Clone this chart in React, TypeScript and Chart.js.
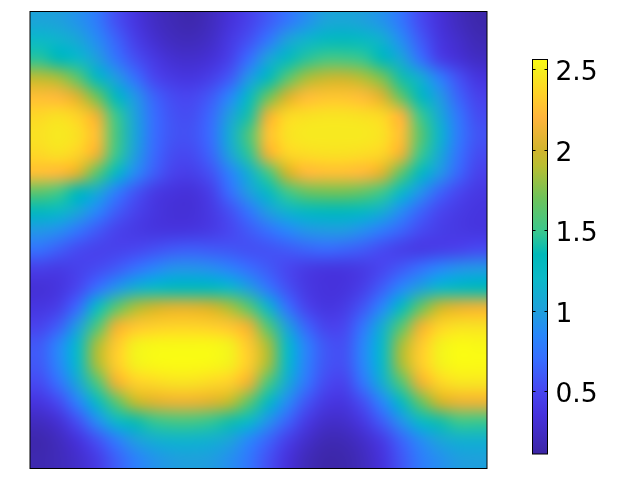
import React, { useEffect, useRef } from "react";
import { Chart, registerables } from "chart.js";

Chart.register(...registerables);

const FONT = "'DejaVu Sans'";

// Field values, one row per band from top to bottom.
const fieldRows: number[][] = [
  [1.03,1.0,.92,.78,.55,.38,.25,.18,.15,.22,.34,.46,.6,.74,.9,1.02,1.05,1.0,.92,.74,.52,.34,.22,.14],
  [1.2,1.15,1.05,.88,.65,.45,.3,.22,.2,.26,.4,.55,.75,1.0,1.15,1.27,1.3,1.25,1.12,.88,.6,.38,.27,.18],
  [1.45,1.35,1.2,1.0,.75,.55,.4,.3,.28,.33,.46,.7,1.02,1.28,1.45,1.53,1.53,1.48,1.33,1.05,.72,.45,.33,.24],
  [1.92,1.85,1.62,1.28,.98,.72,.5,.4,.38,.45,.6,.95,1.3,1.6,1.85,1.95,1.97,1.88,1.72,1.4,1.1,.8,.55,.37],
  [2.25,2.22,2.05,1.7,1.3,.95,.65,.52,.5,.6,.85,1.25,1.68,2.02,2.24,2.28,2.28,2.24,2.05,1.65,1.3,.97,.65,.47],
  [2.38,2.42,2.35,2.12,1.5,1.02,.7,.56,.54,.68,1.0,1.42,2.12,2.38,2.42,2.44,2.44,2.42,2.38,2.18,1.5,1.08,.75,.53],
  [2.43,2.47,2.42,2.25,1.55,1.05,.7,.57,.56,.7,1.1,1.57,2.27,2.43,2.47,2.47,2.47,2.47,2.43,2.25,1.62,1.17,.78,.57],
  [2.38,2.42,2.35,2.12,1.5,1.0,.68,.53,.52,.66,1.02,1.47,2.12,2.36,2.4,2.42,2.42,2.4,2.36,2.12,1.5,1.08,.73,.53],
  [2.25,2.22,2.05,1.62,1.25,.88,.62,.47,.45,.56,.82,1.12,1.52,1.98,2.22,2.25,2.25,2.22,2.05,1.62,1.27,.95,.66,.47],
  [1.62,1.52,1.33,1.08,.8,.58,.42,.36,.34,.45,.7,.98,1.25,1.5,1.66,1.7,1.7,1.64,1.5,1.2,.92,.65,.5,.4],
  [1.3,1.22,1.05,.85,.62,.48,.38,.33,.33,.4,.55,.75,.98,1.15,1.27,1.32,1.32,1.26,1.1,.88,.65,.5,.42,.37],
  [.95,.9,.75,.6,.48,.42,.38,.37,.38,.42,.5,.6,.72,.85,.94,.97,.97,.9,.78,.65,.52,.44,.4,.38],
  [.72,.62,.52,.47,.47,.5,.55,.6,.62,.6,.58,.55,.56,.6,.65,.68,.65,.6,.52,.45,.42,.45,.48,.52],
  [.45,.42,.46,.52,.6,.72,.84,.92,.93,.9,.82,.7,.6,.5,.42,.38,.38,.42,.5,.6,.72,.85,.92,.95],
  [.33,.37,.5,.7,.92,1.1,1.22,1.3,1.32,1.3,1.18,.98,.75,.55,.4,.35,.36,.45,.62,.85,1.0,1.18,1.28,1.33],
  [.38,.45,.68,1.2,1.6,1.85,1.98,2.05,2.05,2.0,1.85,1.6,1.15,.72,.48,.38,.42,.58,.85,1.25,1.65,1.95,2.08,2.12],
  [.48,.62,.98,1.55,2.1,2.28,2.33,2.35,2.35,2.33,2.28,2.1,1.58,1.0,.65,.48,.5,.75,1.1,1.6,2.1,2.35,2.42,2.42],
  [.6,.85,1.2,1.85,2.3,2.5,2.54,2.55,2.55,2.55,2.5,2.3,1.85,1.2,.82,.58,.55,.85,1.2,1.85,2.3,2.5,2.56,2.55],
  [.6,.85,1.2,1.85,2.32,2.5,2.55,2.56,2.56,2.55,2.5,2.32,1.85,1.2,.82,.58,.55,.85,1.2,1.85,2.32,2.5,2.56,2.56],
  [.52,.72,1.05,1.55,2.1,2.33,2.38,2.42,2.42,2.38,2.33,2.1,1.55,1.08,.75,.52,.48,.75,1.1,1.58,2.1,2.36,2.44,2.44],
  [.37,.52,.82,1.22,1.6,1.92,2.05,2.1,2.1,2.05,1.92,1.62,1.25,.88,.58,.4,.38,.55,.85,1.25,1.65,1.98,2.1,2.12],
  [.23,.32,.55,.88,1.18,1.38,1.48,1.53,1.53,1.48,1.4,1.2,.92,.65,.42,.28,.28,.4,.62,.92,1.22,1.4,1.5,1.5],
  [.15,.22,.35,.55,.78,.98,1.1,1.15,1.15,1.12,1.02,.85,.65,.45,.28,.18,.19,.27,.42,.65,.88,1.03,1.12,1.13],
  [.16,.2,.28,.42,.62,.8,.92,.98,1.0,.98,.9,.75,.55,.35,.2,.13,.14,.22,.36,.58,.78,.9,.98,1.0],
];

// Colour scale.
const colorValues = [0.11, 0.35, 0.5, 0.7, 0.85, 1.0, 1.2, 1.35, 1.5, 1.7, 1.9, 2.0, 2.2, 2.35, 2.5, 2.56];
const colorStops: number[][] = [
  [60, 38, 165], [70, 50, 220], [72, 70, 240], [55, 110, 255], [40, 135, 250], [30, 160, 220],
  [10, 185, 200], [0, 185, 185], [60, 200, 140], [110, 195, 90], [185, 190, 50], [210, 180, 45],
  [255, 180, 60], [255, 210, 40], [245, 240, 30], [250, 250, 20],
];
const colorbarTicks = [0.5, 1, 1.5, 2, 2.5];
const colorbarMin = 0.11;
const colorbarMax = 2.56;
const labelShift = 0.025;

function colorOf(v: number): string {
  let i = 0;
  while (i < colorValues.length - 2 && v > colorValues[i + 1]) i++;
  const t = Math.min(1, Math.max(0, (v - colorValues[i]) / (colorValues[i + 1] - colorValues[i])));
  const a = colorStops[i];
  const b = colorStops[i + 1];
  const c = a.map((x, k) => Math.round(x + (b[k] - x) * t));
  return `rgb(${c[0]},${c[1]},${c[2]})`;
}

const nRows = fieldRows.length;
const nCols = fieldRows[0].length;

const cells = fieldRows.flatMap((row, j) =>
  row.map((v, i) => ({ x: i + 0.5, y: j + 0.5, v }))
);

// Softens the cells the library has drawn, so that the field reads as continuous.
const smoothCells = {
  id: "smoothCells",
  afterDatasetsDraw(chart: any) {
    const { ctx, chartArea: a } = chart;
    const w = a.right - a.left;
    const h = a.bottom - a.top;
    const small = document.createElement("canvas");
    small.width = nCols;
    small.height = nRows;
    const s = small.getContext("2d")!;
    s.imageSmoothingEnabled = false;
    s.drawImage(chart.canvas, a.left, a.top, w, h, 0, 0, nCols, nRows);
    ctx.save();
    ctx.imageSmoothingEnabled = true;
    ctx.imageSmoothingQuality = "high";
    ctx.drawImage(small, 0, 0, nCols, nRows, a.left, a.top, w, h);
    ctx.strokeStyle = "#000";
    ctx.lineWidth = 1;
    ctx.strokeRect(a.left, a.top + 0.5, w, h - 1);
    ctx.restore();
  },
};

const barFrame = {
  id: "barFrame",
  afterDatasetsDraw(chart: any) {
    const { ctx, chartArea: a, scales } = chart;
    ctx.save();
    ctx.strokeStyle = "#000";
    ctx.lineWidth = 1;
    ctx.beginPath();
    for (const t of colorbarTicks) {
      const y = Math.round(scales.y.getPixelForValue(t)) + 0.5;
      ctx.moveTo(a.left, y);
      ctx.lineTo(a.left + 3, y);
      ctx.moveTo(a.right - 3, y);
      ctx.lineTo(a.right, y);
    }
    ctx.stroke();
    ctx.strokeRect(a.left, a.top, a.right - a.left, a.bottom - a.top);
    ctx.restore();
  },
};

export default function App() {
  const fieldRef = useRef<HTMLCanvasElement>(null);
  const barRef = useRef<HTMLCanvasElement>(null);

  useEffect(() => {
    const cellSide = 457 / nCols;
    const field = new Chart(fieldRef.current!, {
      type: "scatter",
      data: {
        datasets: [
          {
            label: "field",
            data: cells,
            pointStyle: "rect",
            pointRadius: (cellSide + 1) / Math.SQRT2,
            pointBorderWidth: 0,
            backgroundColor: cells.map((c) => colorOf(c.v)),
          },
        ],
      },
      options: {
        responsive: false,
        animation: false,
        layout: { autoPadding: false, padding: { left: 30, right: 153, top: 11, bottom: 11 } },
        plugins: { legend: { display: false }, tooltip: { enabled: false } },
        scales: {
          x: { type: "linear", min: 0, max: nCols, display: false },
          y: { type: "linear", min: 0, max: nRows, reverse: true, display: false },
        },
      },
      plugins: [smoothCells],
    } as any);

    const bar = new Chart(barRef.current!, {
      type: "bar",
      data: {
        labels: ["colorbar"],
        datasets: [
          {
            label: "colorbar",
            data: [[colorbarMin, colorbarMax]],
            barPercentage: 1,
            categoryPercentage: 1,
            backgroundColor: (ctx: any) => {
              const a = ctx.chart.chartArea;
              if (!a) return "#888";
              const g = ctx.chart.ctx.createLinearGradient(0, a.bottom, 0, a.top);
              colorValues.forEach((v) => {
                g.addColorStop((v - colorbarMin) / (colorbarMax - colorbarMin), colorOf(v));
              });
              return g;
            },
          },
        ],
      },
      options: {
        responsive: false,
        animation: false,
        layout: { autoPadding: false, padding: { left: 32.5, right: 0, top: 59.5, bottom: 26 } },
        plugins: { legend: { display: false }, tooltip: { enabled: false } },
        scales: {
          x: { display: false },
          y: { display: false, min: colorbarMin, max: colorbarMax },
          yLabels: {
            position: "right",
            min: colorbarMin + labelShift,
            max: colorbarMax + labelShift,
            grid: { display: false, drawTicks: false },
            border: { display: false },
            afterBuildTicks: (s: any) => {
              s.ticks = colorbarTicks.map((value) => ({ value }));
            },
            afterFit: (s: any) => {
              s.width = 92.5;
            },
            ticks: {
              padding: 8,
              color: "#000",
              font: { family: FONT, size: 26.5 },
              callback: (v: any) => String(v),
            },
          },
        },
      },
      plugins: [barFrame],
    } as any);

    return () => {
      field.destroy();
      bar.destroy();
    };
  }, []);

  return (
    <div style={{ position: "absolute", left: 0, top: 0, width: 640, height: 480, background: "#fff" }}>
      <canvas ref={fieldRef} width={640} height={480} style={{ position: "absolute", left: 0, top: 0 }} />
      <canvas ref={barRef} width={140} height={480} style={{ position: "absolute", left: 500, top: 0 }} />
    </div>
  );
}
